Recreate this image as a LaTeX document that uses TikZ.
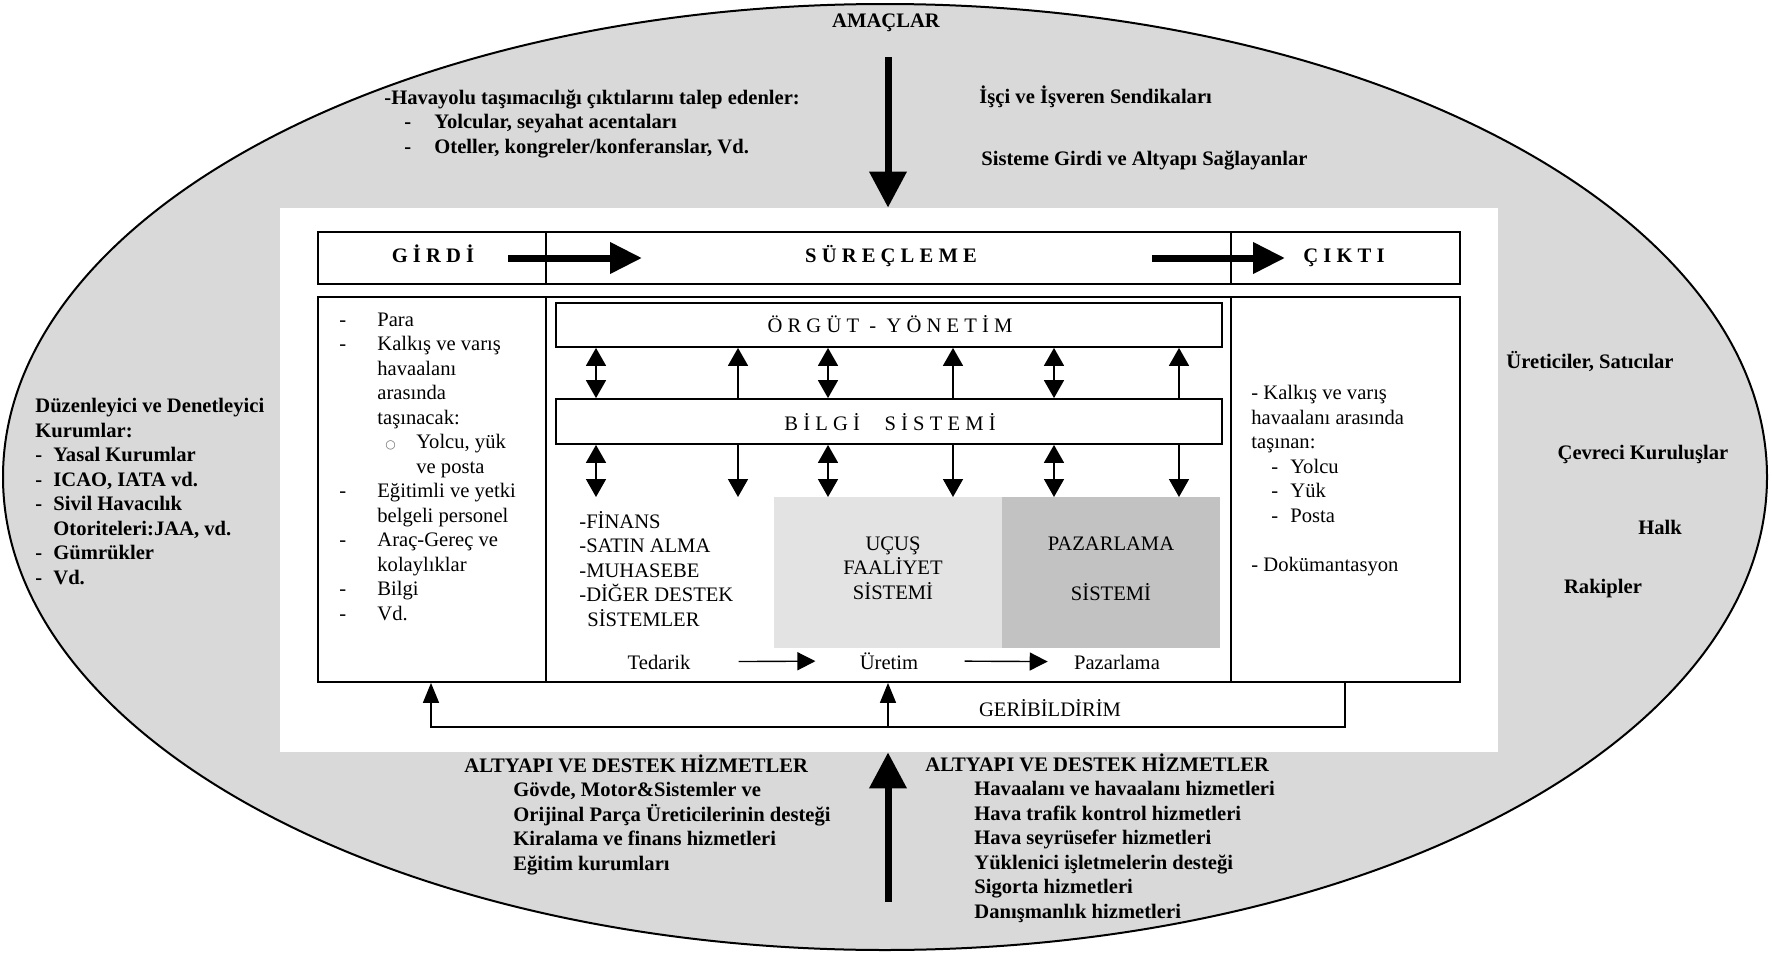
\documentclass[tikz,border=0pt]{standalone}
\usepackage{fontspec}
\setmainfont{Liberation Serif}
\newfontfamily\symfont{DejaVu Sans}
\usetikzlibrary{arrows.meta,fit,shapes.geometric}
\newcommand\bodysize{\fontsize{10.3}{12.25}\selectfont}
\newcommand\spaced{\addfontfeatures{LetterSpace=25}}
\newcommand\ringmark{{\symfont\fontsize{6}{6}\selectfont\color{black!55}○}}
\begin{document}
\begin{tikzpicture}[x=0.5pt,y=-0.5pt,
  frame/.style={draw=black,line width=0.9pt,inner sep=0pt},
  panel/.style={inner sep=0pt,draw=none},
  txt/.style={inner sep=0pt,font=\bodysize},
  btxt/.style={inner sep=0pt,font=\bodysize\bfseries},
  % multi-line lists are anchored at the baseline of their last line
  lst/.style={txt,align=left,anchor=base west},
  blst/.style={btxt,align=left,anchor=base west},
  hdr/.style={inner sep=0pt,font=\bodysize\bfseries\spaced,anchor=base},
  barlabel/.style={inner sep=0pt,font=\bodysize\spaced,anchor=base},
  link/.style={line width=0.8pt},
  twoway/.style={link,{Triangle[length=9pt,width=10pt]}-{Triangle[length=9pt,width=10pt]}},
  oneway/.style={link,-{Triangle[length=9pt,width=10pt]}},
  flow/.style={line width=0.7pt,-{Triangle[length=9pt,width=9pt]}},
  feed/.style={line width=0.8pt,-{Triangle[length=10pt,width=8pt]}},
  fat/.style={line width=3.5pt,-{Triangle[length=16pt,width=15pt]}},
  fatv/.style={line width=3.5pt,-{Triangle[length=18pt,width=18pt]}},
]
\useasboundingbox (0,0) rectangle (1773,953);

% environment and the white sheet
\node[ellipse,draw=black,line width=1pt,fill=black!15,minimum width=882pt,minimum height=473pt,inner sep=0pt] (env) at (885,477) {};
\node[panel,fill=white,fit={(280,208) (1498,752)}] (sheet) {};

% header row and body columns
\node[frame,fit={(318,232) (546,284)}] (inhead) {};
\node[frame,fit={(546,232) (1231,284)}] (prochead) {};
\node[frame,fit={(1231,232) (1460,284)}] (outhead) {};
\node[frame,fit={(318,297) (546,682)}] (inbox) {};
\node[frame,fit={(546,297) (1231,682)}] (procbox) {};
\node[frame,fit={(1231,297) (1460,682)}] (outbox) {};

% shaded subsystems
\node[panel,fill=black!11,fit={(774,497) (1002,648)}] (ucus) {};
\node[panel,fill=black!24,fit={(1002,497) (1220,648)}] (pazar) {};

% management and information bars
\node[frame,fill=white,fit={(556,303) (1222,347)}] (org) {};
\node[frame,fill=white,fit={(556,399) (1222,444)}] (bil) {};

\node[hdr] (tgirdi) at (433,262) {GİRDİ};
\node[hdr] (tsurec) at (891,262) {SÜREÇLEME};
\node[hdr] (tcikti) at (1344,262) {ÇIKTI};
\node[barlabel] (torg) at (890,332) {ÖRGÜT - YÖNETİM};
\node[barlabel] (tbil) at (890,430) {BİLGİ\hspace{1.2em}SİSTEMİ};

% vertical links
\foreach \n/\x in {1/596,2/738,3/828,4/953,5/1054,6/1179}
  \coordinate (col\n) at (\x,497);
\draw[twoway] (org.south -| col1) -- (bil.north -| col1);
\draw[oneway] (bil.north -| col2) -- (org.south -| col2);
\draw[twoway] (org.south -| col3) -- (bil.north -| col3);
\draw[oneway] (bil.north -| col4) -- (org.south -| col4);
\draw[twoway] (org.south -| col5) -- (bil.north -| col5);
\draw[oneway] (bil.north -| col6) -- (org.south -| col6);
\draw[twoway] (bil.south -| col1) -- (col1);
\draw[oneway] (bil.south -| col2) -- (col2);
\draw[twoway] (bil.south -| col3) -- (col3);
\draw[oneway] (bil.south -| col4) -- (col4);
\draw[twoway] (bil.south -| col5) -- (col5);
\draw[oneway] (bil.south -| col6) -- (col6);

% subsystem texts
\node[lst] (support) at (579,626) {-FİNANS\\-SATIN ALMA\\-MUHASEBE\\-DİĞER DESTEK\\\hspace*{4pt}SİSTEMLER};
\node[txt,align=center] (tucus) at (893,568) {UÇUŞ\\FAALİYET\\SİSTEMİ};
\node[txt,anchor=base] (tpaz1) at (1111,550) {PAZARLAMA};
\node[txt,anchor=base] (tpaz2) at (1111,600) {SİSTEMİ};

% value chain
\node[txt,anchor=base] (ted) at (659,669) {Tedarik};
\node[txt,anchor=base] (ure) at (889,669) {Üretim};
\node[txt,anchor=base] (paz) at (1117,669) {Pazarlama};
\draw[flow,shorten <=24pt,shorten >=22pt] (ted) -- (ure);
\draw[flow,shorten <=23pt,shorten >=13pt] (ure) -- (paz);

% inputs and outputs
\node[lst] (inlist) at (339,620) {%
\makebox[19pt][l]{-}Para\\
\makebox[19pt][l]{-}Kalkış ve varış\\
\hspace*{19pt}havaalanı\\
\hspace*{19pt}arasında\\
\hspace*{19pt}taşınacak:\\
\hspace*{23pt}\makebox[15.5pt][l]{\ringmark}Yolcu, yük\\
\hspace*{38.5pt}ve posta\\
\makebox[19pt][l]{-}Eğitimli ve yetki\\
\hspace*{19pt}belgeli personel\\
\makebox[19pt][l]{-}Araç-Gereç ve\\
\hspace*{19pt}kolaylıklar\\
\makebox[19pt][l]{-}Bilgi\\
\makebox[19pt][l]{-}Vd.};
\node[lst] (outlist) at (1251,571) {%
- Kalkış ve varış\\
havaalanı arasında\\
taşınan:\\
\hspace*{10pt}\makebox[9.5pt][l]{-}Yolcu\\
\hspace*{10pt}\makebox[9.5pt][l]{-}Yük\\
\hspace*{10pt}\makebox[9.5pt][l]{-}Posta\\[12.25pt]
- Dokümantasyon};

% feedback loop
\coordinate (fbR) at (1345,727);
\coordinate (fbL) at (431,727);
\coordinate (fbM) at (888,727);
\draw[feed] (outbox.south -| fbR) -- (fbR) -- (fbL) -- (inbox.south -| fbL);
\draw[feed] (fbM) -- (procbox.south -| fbM);
\node[txt,anchor=base] (fbtext) at (1050,716) {GERİBİLDİRİM};

% main flow arrows
\coordinate (ga) at (508,258);
\coordinate (gb) at (642,258);
\coordinate (ca) at (1152,258);
\coordinate (cb) at (1285,258);
\draw[fat] (ga) -- (gb);
\draw[fat] (ca) -- (cb);
\coordinate (amtop) at (888,57);
\draw[fatv] (amtop) -- (sheet.north -| amtop);
\coordinate (basebot) at (888,902);
\draw[fatv] (basebot) -- (sheet.south -| basebot);

% surrounding environment
\node[btxt,anchor=base] (amac) at (886,27) {AMAÇLAR};
\node[blst] (demand) at (384,153) {%
-Havayolu taşımacılığı çıktılarını talep edenler:\\
\hspace*{10pt}\makebox[15pt][l]{-}Yolcular, seyahat acentaları\\
\hspace*{10pt}\makebox[15pt][l]{-}Oteller, kongreler/konferanslar, Vd.};
\node[btxt,anchor=base west] (unions) at (979,103) {İşçi ve İşveren Sendikaları};
\node[btxt,anchor=base west] (suppliers) at (981,165) {Sisteme Girdi ve Altyapı Sağlayanlar};
\node[blst] (regul) at (35,584) {%
Düzenleyici ve Denetleyici\\
Kurumlar:\\
\makebox[9pt][l]{-}Yasal Kurumlar\\
\makebox[9pt][l]{-}ICAO, IATA vd.\\
\makebox[9pt][l]{-}Sivil Havacılık\\
\hspace*{9pt}Otoriteleri:JAA, vd.\\
\makebox[9pt][l]{-}Gümrükler\\
\makebox[9pt][l]{-}Vd.};
\node[btxt,anchor=base] (makers) at (1590,368) {Üreticiler, Satıcılar};
\node[btxt,anchor=base] (green) at (1643,459) {Çevreci Kuruluşlar};
\node[btxt,anchor=base] (public) at (1660,534) {Halk};
\node[btxt,anchor=base] (rivals) at (1603,593) {Rakipler};
\node[blst] (infraL) at (464,870) {%
ALTYAPI VE DESTEK HİZMETLER\\
\hspace*{24.5pt}Gövde, Motor\&Sistemler ve\\
\hspace*{24.5pt}Orijinal Parça Üreticilerinin desteği\\
\hspace*{24.5pt}Kiralama ve finans hizmetleri\\
\hspace*{24.5pt}Eğitim kurumları};
\node[blst] (infraR) at (925,918) {%
ALTYAPI VE DESTEK HİZMETLER\\
\hspace*{24.5pt}Havaalanı ve havaalanı hizmetleri\\
\hspace*{24.5pt}Hava trafik kontrol hizmetleri\\
\hspace*{24.5pt}Hava seyrüsefer hizmetleri\\
\hspace*{24.5pt}Yüklenici işletmelerin desteği\\
\hspace*{24.5pt}Sigorta hizmetleri\\
\hspace*{24.5pt}Danışmanlık hizmetleri};
\end{tikzpicture}
\end{document}
